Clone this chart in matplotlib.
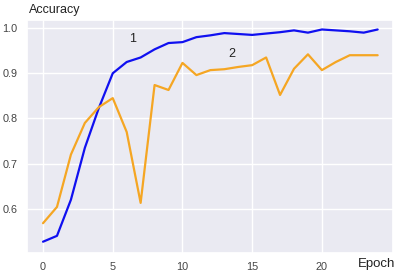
import matplotlib
matplotlib.use("Agg")
import matplotlib.pyplot as plt
import seaborn as sns

epochs = list(range(25))
acc_1 = [0.527, 0.540, 0.620, 0.735, 0.823, 0.900, 0.925, 0.935, 0.953, 0.967,
         0.969, 0.980, 0.984, 0.989, 0.987, 0.985, 0.988, 0.991, 0.995, 0.990,
         0.997, 0.995, 0.993, 0.990, 0.997]
acc_2 = [0.568, 0.604, 0.720, 0.790, 0.825, 0.845, 0.770, 0.613, 0.874, 0.863,
         0.923, 0.896, 0.907, 0.909, 0.914, 0.918, 0.935, 0.852, 0.910, 0.942,
         0.907, 0.925, 0.940, 0.940, 0.940]
x_ticks = [0, 5, 10, 15, 20]
y_ticks = [0.6, 0.7, 0.8, 0.9, 1.0]

sns.set_theme(style="darkgrid")
plt.rcParams['font.family'] = ['Liberation Sans', 'DejaVu Sans']

fig = plt.figure(figsize=(3.98, 2.79), dpi=100)
ax = fig.add_axes([27/398, 1 - 253/279, (393-27)/398, (253-20)/279])
ax.plot(epochs, acc_1, color='#1010F0', lw=1.6)
ax.plot(epochs, acc_2, color='#F5A623', lw=1.6)
ax.set_xlim(-1.15, 25.1)
ax.set_ylim(0.502, 1.018)
ax.set_xticks(x_ticks)
ax.set_yticks(y_ticks)
ax.set_xticklabels([str(v) for v in x_ticks])
ax.set_yticklabels([f"{v:.1f}" for v in y_ticks])
ax.tick_params(axis='x', length=0, labelsize=7.8, colors='#444444', pad=6.5)
ax.tick_params(axis='y', length=0, labelsize=7.8, colors='#444444', pad=7)
ax.text(6.45, 0.976, "1", fontsize=9, color='#222222', ha='center', va='center')
ax.text(13.55, 0.943, "2", fontsize=9, color='#222222', ha='center', va='center')
fig.text(29/398, 1 - 10/279, "Accuracy", fontsize=9, color='#222222', ha='left', va='center')
fig.text(377/398, 1 - 264/279, "Epoch", fontsize=9.5, color='#222222', ha='center', va='center')
fig.savefig("out.png", dpi=100)
